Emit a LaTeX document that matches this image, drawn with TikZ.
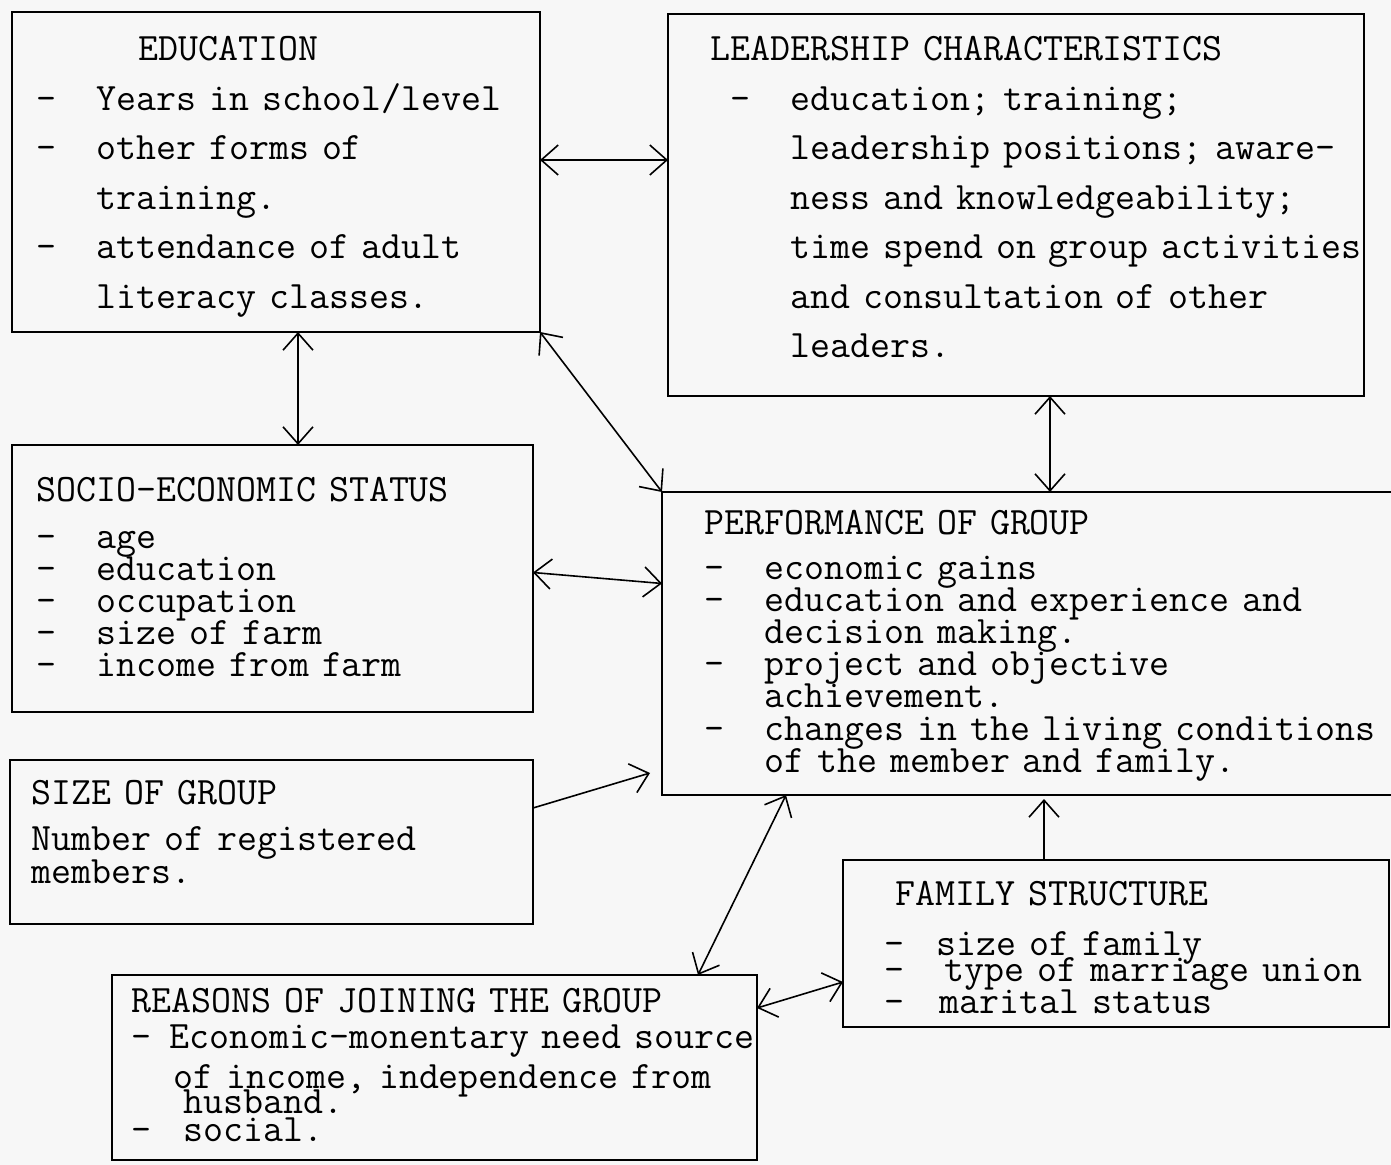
\documentclass[tikz,border=0pt]{standalone}
\usepackage{fontspec}
\usetikzlibrary{arrows.meta}

\tikzset{>={Straight Barb[length=8.5pt,width=15pt]}}

\newcommand{\cw}{\fontcharwd\font`x\relax}
\newcommand{\bul}[1][3]{\makebox[#1\cw][l]{-}}
\newcommand{\tightlines}{\lineskiplimit=-100pt\relax\lineskip=0pt\relax}

\begin{document}
\begin{tikzpicture}[x=0.5pt,y=-0.5pt,
  box/.style={draw,line width=1.2pt,anchor=north west,inner sep=0pt,outer sep=0pt},
  txt/.style={anchor=base west,inner sep=0pt,align=left,text width=400pt,
    font=\fontsize{19.4pt}{#1}\selectfont\ttfamily\tightlines},
  link/.style={line width=0.8pt}]

\fill[black!3] (0,0) rectangle (1391,1165);
\useasboundingbox (0,0) rectangle (1391,1165);

\node[box,minimum width=264pt,minimum height=160pt] (edu) at (12,12) {};
\node[box,minimum width=348pt,minimum height=191pt] (lead) at (668,14) {};
\node[box,minimum width=260.5pt,minimum height=133.5pt] (socio) at (12,445) {};
\node[box,minimum width=369pt,minimum height=151.5pt] (perf) at (662,492) {};
\node[box,minimum width=261.5pt,minimum height=82pt] (size) at (10,760) {};
\node[box,minimum width=273pt,minimum height=83.5pt] (family) at (843,860) {};
\node[box,minimum width=322.5pt,minimum height=92.5pt] (reasons) at (112,975) {};

\node[txt=24.75pt] (edutxt) at (36,61) {\hspace*{51pt}EDUCATION\\
  \bul Years in school/level\\
  \bul other forms of\\
  \hspace*{3\cw}training.\\
  \bul attendance of adult\\
  \hspace*{3\cw}literacy classes.};

\node[txt=24.75pt] (leadtxt) at (710,61) {LEADERSHIP CHARACTERISTICS\\
  \hspace*{\cw}\bul education; training;\\
  \hspace*{4\cw}leadership positions; aware-\\
  \hspace*{4\cw}ness and knowledgeability;\\
  \hspace*{4\cw}time spend on group activities\\
  \hspace*{4\cw}and consultation of other\\
  \hspace*{4\cw}leaders.};

\node[txt=15.9pt] (sociotxt) at (36,502) {SOCIO-ECONOMIC STATUS\\[7.6pt]
  \bul age\\
  \bul education\\
  \bul occupation\\
  \bul size of farm\\
  \bul income from farm};

\node[txt=16.1pt] (perftxt) at (704,534) {PERFORMANCE OF GROUP\\[6.4pt]
  \bul economic gains\\
  \bul education and experience and\\
  \hspace*{3\cw}decision making.\\
  \bul project and objective\\
  \hspace*{3\cw}achievement.\\
  \bul changes in the living conditions\\
  \hspace*{3\cw}of the member and family.};

\node[txt=16.5pt] (sizetxt) at (31,804) {SIZE OF GROUP\\[6.5pt]
  Number of registered\\
  members.};

\node[txt=13pt] (familytxt) at (884,905) {\hspace*{5.5pt}FAMILY STRUCTURE\\[12pt]
  \bul[2.6]size of family\\
  \bul[3]type of marriage union\\[3pt]
  \bul[2.75]marital status};

\node[txt=12.5pt] (reasonstxt) at (131,1012) {REASONS OF JOINING THE GROUP\\[5.5pt]
  \bul[1.9]Economic-monentary need source\\[7.5pt]
  \hspace*{2.1\cw}of income, independence from\\
  \hspace*{2.6\cw}husband.\\[1.5pt]
  \bul[2.6]social.};

% connectors
\draw[<->,link] ([yshift=6pt]edu.east) -- ([yshift=6pt]edu.east -| lead.west);
\draw[<->,link] ([xshift=11pt]edu.south) -- ([xshift=11pt]edu.south |- socio.north);
\draw[<->,link] (edu.south east) -- (perf.north west);
\draw[<->,link] ([xshift=17pt]lead.south) -- ([xshift=17pt]lead.south |- perf.north);
\draw[<->,link] ([yshift=3pt]socio.east) -- ([yshift=30pt]perf.west);
\draw[->,link] ([yshift=17pt]size.east) -- ([xshift=-6pt,yshift=-64.75pt]perf.west);
\draw[<->,link] ([xshift=62pt]perf.south west) -- ([xshift=293pt]reasons.north west);
\draw[<->,link] ([yshift=29.75pt]reasons.east) -- ([yshift=-19.25pt]family.west);
\draw[->,link,shorten >=2pt] ([xshift=100.5pt]family.north west) -- ([xshift=100.5pt]family.north west |- perf.south);

\end{tikzpicture}
\end{document}
